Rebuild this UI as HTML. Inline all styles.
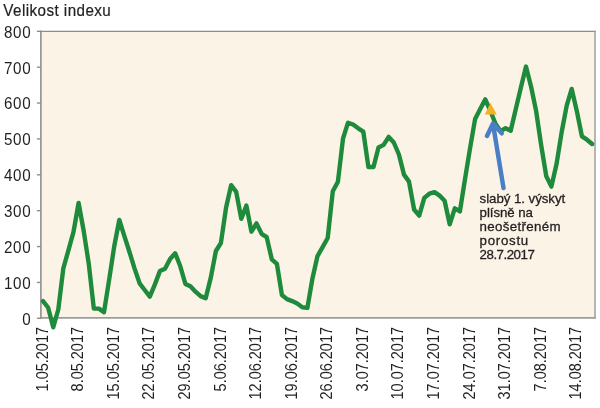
<!DOCTYPE html>
<html><head><meta charset="utf-8"><style>
html,body{margin:0;padding:0;background:#fff;}
body{width:600px;height:408px;overflow:hidden;}
svg{display:block;will-change:transform;}
.lab{font-family:"Liberation Sans",sans-serif;font-size:14.5px;fill:#231f20;}
.yl{font-size:15.2px;letter-spacing:0.7px;}
.an{font-size:13.3px;stroke:#231f20;stroke-width:0.3px;}
.xl{font-size:16px;}
.ax{stroke:#8e8e8e;stroke-width:1.4;}
</style></head><body>
<svg width="600" height="408" viewBox="0 0 600 408">
<rect x="41" y="31.5" width="553.5" height="286.5" fill="#fcf3e7"/>
<line x1="40.1" y1="31.4" x2="595.7" y2="31.4" stroke="#8d8d8d" stroke-width="1.3"/>
<line x1="595" y1="30.8" x2="595" y2="318.7" stroke="#9e9e9e" stroke-width="1.5"/>
<line x1="40.1" y1="317.9" x2="595.7" y2="317.9" stroke="#9c9c9c" stroke-width="1.6"/>
<line x1="40.9" y1="30.8" x2="40.9" y2="318.7" stroke="#8e8e8e" stroke-width="1.6"/>
<line x1="36.9" y1="318.30" x2="41" y2="318.30" class="ax"/><text transform="translate(31.4,324.70) scale(1,1.1)" text-anchor="end" class="lab yl">0</text><line x1="36.9" y1="282.43" x2="41" y2="282.43" class="ax"/><text transform="translate(31.4,288.82) scale(1,1.1)" text-anchor="end" class="lab yl">100</text><line x1="36.9" y1="246.55" x2="41" y2="246.55" class="ax"/><text transform="translate(31.4,252.95) scale(1,1.1)" text-anchor="end" class="lab yl">200</text><line x1="36.9" y1="210.68" x2="41" y2="210.68" class="ax"/><text transform="translate(31.4,217.08) scale(1,1.1)" text-anchor="end" class="lab yl">300</text><line x1="36.9" y1="174.80" x2="41" y2="174.80" class="ax"/><text transform="translate(31.4,181.20) scale(1,1.1)" text-anchor="end" class="lab yl">400</text><line x1="36.9" y1="138.93" x2="41" y2="138.93" class="ax"/><text transform="translate(31.4,145.33) scale(1,1.1)" text-anchor="end" class="lab yl">500</text><line x1="36.9" y1="103.05" x2="41" y2="103.05" class="ax"/><text transform="translate(31.4,109.45) scale(1,1.1)" text-anchor="end" class="lab yl">600</text><line x1="36.9" y1="67.18" x2="41" y2="67.18" class="ax"/><text transform="translate(31.4,73.58) scale(1,1.1)" text-anchor="end" class="lab yl">700</text><line x1="36.9" y1="31.30" x2="41" y2="31.30" class="ax"/><text transform="translate(31.4,37.70) scale(1,1.1)" text-anchor="end" class="lab yl">800</text>
<text transform="translate(3.3,16) scale(1,1.08)" class="lab" style="font-size:15.2px;stroke:#231f20;stroke-width:0.2px" textLength="107.5" lengthAdjust="spacing">Velikost indexu</text>
<text transform="translate(47.60,327) rotate(-90) scale(0.906,1)" text-anchor="end" class="lab xl">1.05.2017</text><text transform="translate(83.19,327) rotate(-90) scale(0.906,1)" text-anchor="end" class="lab xl">8.05.2017</text><text transform="translate(118.78,327) rotate(-90) scale(0.906,1)" text-anchor="end" class="lab xl">15.05.2017</text><text transform="translate(154.36,327) rotate(-90) scale(0.906,1)" text-anchor="end" class="lab xl">22.05.2017</text><text transform="translate(189.95,327) rotate(-90) scale(0.906,1)" text-anchor="end" class="lab xl">29.05.2017</text><text transform="translate(225.54,327) rotate(-90) scale(0.906,1)" text-anchor="end" class="lab xl">5.06.2017</text><text transform="translate(261.13,327) rotate(-90) scale(0.906,1)" text-anchor="end" class="lab xl">12.06.2017</text><text transform="translate(296.72,327) rotate(-90) scale(0.906,1)" text-anchor="end" class="lab xl">19.06.2017</text><text transform="translate(332.30,327) rotate(-90) scale(0.906,1)" text-anchor="end" class="lab xl">26.06.2017</text><text transform="translate(367.89,327) rotate(-90) scale(0.906,1)" text-anchor="end" class="lab xl">3.07.2017</text><text transform="translate(403.48,327) rotate(-90) scale(0.906,1)" text-anchor="end" class="lab xl">10.07.2017</text><text transform="translate(439.07,327) rotate(-90) scale(0.906,1)" text-anchor="end" class="lab xl">17.07.2017</text><text transform="translate(474.66,327) rotate(-90) scale(0.906,1)" text-anchor="end" class="lab xl">24.07.2017</text><text transform="translate(510.24,327) rotate(-90) scale(0.906,1)" text-anchor="end" class="lab xl">31.07.2017</text><text transform="translate(545.83,327) rotate(-90) scale(0.906,1)" text-anchor="end" class="lab xl">7.08.2017</text><text transform="translate(581.42,327) rotate(-90) scale(0.906,1)" text-anchor="end" class="lab xl">14.08.2017</text>
<polyline points="43.0,301.1 48.1,307.5 53.2,327.3 58.3,309.5 63.3,268.5 68.4,250.3 73.5,231.9 78.6,203.0 83.7,231.0 88.8,264.0 93.8,308.6 98.9,308.6 104.0,312.2 109.1,280.0 114.2,246.5 119.3,220.0 124.3,235.9 129.4,251.7 134.5,268.4 139.6,283.3 144.7,290.0 149.8,296.6 154.8,284.6 159.9,271.1 165.0,268.7 170.1,258.9 175.2,253.3 180.3,266.3 185.4,284.0 190.4,286.2 195.5,291.7 200.6,296.1 205.7,298.2 210.8,277.6 215.9,251.0 220.9,243.0 226.0,208.1 231.1,185.2 236.2,191.9 241.3,218.8 246.4,205.6 251.4,231.7 256.5,223.4 261.6,233.8 266.7,237.2 271.8,259.3 276.9,263.8 281.9,295.0 287.0,299.1 292.1,301.1 297.2,303.5 302.3,307.2 307.4,307.9 312.5,278.2 317.5,256.1 322.6,247.1 327.7,238.0 332.8,191.3 337.9,181.7 343.0,138.7 348.0,122.7 353.1,124.5 358.2,128.3 363.3,131.6 368.4,167.0 373.5,167.0 378.5,147.5 383.6,144.9 388.7,136.9 393.8,142.5 398.9,154.5 404.0,174.6 409.0,181.6 414.1,209.5 419.2,215.6 424.3,197.9 429.4,193.7 434.5,192.1 439.6,195.6 444.6,200.7 449.7,224.3 454.8,208.3 459.9,211.4 465.0,179.2 470.1,148.0 475.1,119.0 480.2,109.0 485.3,99.4 490.4,111.0 495.5,123.8 500.6,131.2 505.6,128.2 510.7,130.7 515.8,109.0 520.9,87.6 526.0,66.6 531.1,86.7 536.1,110.9 541.2,145.4 546.3,176.3 551.4,186.6 556.5,164.3 561.6,132.5 566.7,105.7 571.7,88.9 576.8,110.9 581.9,136.3 587.0,139.7 592.1,144.0" fill="none" stroke="#1e8a3b" stroke-width="4.4" stroke-linejoin="round" stroke-linecap="round"/>
<polygon points="484.8,114.6 490.4,103 496.8,114.6" fill="#f1b323"/>
<path d="M503.5,188 L493,124 M487,136 L493,123.5 L501.8,133.3" fill="none" stroke="#4a7fc6" stroke-width="4.5" stroke-linecap="round" stroke-linejoin="round"/>
<text class="lab an" x="479.6" y="203.4" textLength="85.6" lengthAdjust="spacing">slabý 1. výskyt</text>
<text class="lab an" x="479.6" y="217.3" textLength="53.3" lengthAdjust="spacing">plísně na</text>
<text class="lab an" x="479.6" y="231.1" textLength="81" lengthAdjust="spacing">neošetřeném</text>
<text class="lab an" x="479.6" y="245" textLength="48.6" lengthAdjust="spacing">porostu</text>
<text class="lab an" x="479.6" y="258.9" textLength="55.2" lengthAdjust="spacing">28.7.2017</text>
</svg>
</body></html>
